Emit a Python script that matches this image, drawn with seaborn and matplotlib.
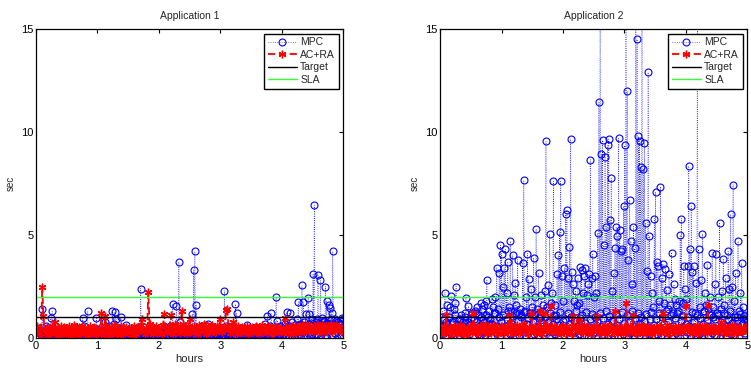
import numpy as np
import pandas as pd
import matplotlib
matplotlib.use("Agg")
import matplotlib.pyplot as plt
import seaborn as sns

# ---------------- data ----------------
TARGET = 1.0
SLA = 2.0
X_TICKS = [0, 1, 2, 3, 4, 5]
Y_TICKS = [0, 5, 10, 15]
TITLES = ["Application 1", "Application 2"]

# Application 1, MPC: upper samples (with the peaks)
mpc1_peak = [
    0.1, 0.3, 0.05, 0.4, 0.2, 1.4, 0.1, 0.35, 0.6, 0.15, 0.5, 0.2, 0.95, 1.3, 0.3, 0.1, 0.45, 0.2, 0.05, 0.3, 0.15, 0.4, 0.1, 0.25, 0.5,
    0.2, 0.05, 0.35, 0.15, 0.45, 0.1, 0.3, 0.55, 0.05, 0.2, 0.4, 0.1, 0.3, 0.97, 0.6, 0.15, 0.3, 1.33, 0.1, 0.4, 0.2, 0.05, 0.35, 0.5, 0.95,
    0.3, 0.1, 0.45, 0.2, 0.05, 0.35, 0.8, 0.15, 0.4, 0.6, 0.1, 0.3, 1.3, 0.7, 1.25, 0.9, 0.2, 0.5, 0.1, 1.0, 0.3, 0.05, 0.4, 0.65, 0.2,
    0.1, 0.35, 0.2, 0.05, 0.45, 0.3, 0.15, 0.5, 0.25, 0.1, 2.4, 0.4, 0.2, 0.55, 0.05, 0.3, 0.15, 0.45, 0.1, 0.35, 0.2, 0.5, 0.05, 0.3, 0.15,
    0.3, 0.1, 0.45, 0.2, 0.55, 0.05, 0.35, 0.15, 0.4, 0.6, 0.25, 1.65, 0.3, 0.5, 1.55, 0.2, 3.7, 0.8, 0.1, 0.4, 0.25, 0.05, 0.35, 0.6, 0.15,
    0.2, 0.45, 1.17, 3.3, 4.2, 1.6, 0.3, 0.1, 0.5, 0.25, 0.6, 0.05, 0.4, 0.2, 0.35, 0.7, 0.1, 0.45, 0.25, 0.55, 0.15, 0.3, 0.05, 0.4, 0.2,
    0.35, 0.1, 0.5, 2.3, 0.6, 0.2, 0.4, 0.05, 0.3, 0.55, 0.15, 0.45, 1.65, 1.2, 0.25, 0.5, 0.1, 0.35, 0.2, 0.45, 0.05, 0.65, 0.3, 0.15, 0.4,
    0.2, 0.45, 0.1, 0.35, 0.55, 0.05, 0.3, 0.5, 0.15, 0.4, 0.25, 0.7, 0.45, 1.05, 0.3, 0.6, 1.2, 0.1, 0.5, 0.35, 2.0, 0.85, 0.2, 0.6, 0.4,
    0.5, 0.3, 0.7, 0.15, 1.25, 0.6, 1.2, 0.4, 0.8, 0.25, 0.65, 0.5, 0.9, 1.75, 0.7, 0.35, 2.55, 1.75, 0.8, 1.15, 0.6, 1.95, 1.15, 0.75, 0.9,
    3.1, 6.45, 0.8, 0.9, 3.05, 0.7, 2.8, 0.95, 0.6, 0.85, 2.5, 1.8, 0.75, 1.6, 1.45, 1.2, 4.2, 0.7, 0.9, 0.6, 0.8, 0.5, 0.85, 0.7, 0.9,
]
# Application 1, MPC: lower samples
mpc1_low = [
    0.02, 0.15, 0.05, 0.3, 0.0, 0.1, 0.25, 0.03, 0.4, 0.08, 0.2, 0.0, 0.12, 0.35, 0.05, 0.18, 0.02, 0.28, 0.1, 0.0, 0.22, 0.06, 0.38, 0.04, 0.15,
    0.0, 0.25, 0.08, 0.12, 0.32, 0.03, 0.18, 0.0, 0.42, 0.1, 0.05, 0.27, 0.02, 0.15, 0.36, 0.0, 0.2, 0.07, 0.3, 0.04, 0.13, 0.0, 0.24, 0.09, 0.4,
    0.06, 0.18, 0.0, 0.33, 0.1, 0.03, 0.26, 0.14, 0.0, 0.38, 0.07, 0.2, 0.02, 0.3, 0.12, 0.0, 0.44, 0.05, 0.16, 0.28, 0.01, 0.1, 0.34, 0.04, 0.22,
    0.12, 0.0, 0.3, 0.06, 0.2, 0.02, 0.4, 0.1, 0.0, 0.24, 0.15, 0.04, 0.35, 0.08, 0.0, 0.28, 0.12, 0.03, 0.42, 0.06, 0.18, 0.0, 0.26, 0.1, 0.32,
    0.03, 0.22, 0.1, 0.0, 0.36, 0.14, 0.05, 0.3, 0.0, 0.18, 0.4, 0.07, 0.24, 0.02, 0.12, 0.34, 0.0, 0.2, 0.08, 0.45, 0.04, 0.16, 0.0, 0.28, 0.1,
    0.2, 0.05, 0.38, 0.0, 0.14, 0.26, 0.02, 0.32, 0.1, 0.0, 0.22, 0.44, 0.06, 0.17, 0.0, 0.3, 0.08, 0.4, 0.03, 0.2, 0.12, 0.0, 0.35, 0.07, 0.25,
    0.0, 0.3, 0.12, 0.05, 0.42, 0.18, 0.0, 0.25, 0.09, 0.36, 0.02, 0.15, 0.28, 0.0, 0.4, 0.06, 0.2, 0.11, 0.0, 0.33, 0.04, 0.24, 0.14, 0.0, 0.38,
    0.1, 0.02, 0.27, 0.16, 0.0, 0.4, 0.07, 0.22, 0.03, 0.34, 0.12, 0.0, 0.3, 0.18, 0.05, 0.45, 0.0, 0.14, 0.26, 0.08, 0.0, 0.36, 0.1, 0.2, 0.03,
    0.15, 0.35, 0.05, 0.5, 0.0, 0.28, 0.6, 0.1, 0.42, 0.02, 0.3, 0.55, 0.08, 0.2, 0.65, 0.0, 0.38, 0.12, 0.5, 0.04, 0.26, 0.7, 0.06, 0.44, 0.18,
    0.4, 0.05, 0.6, 0.2, 0.75, 0.0, 0.5, 0.3, 0.8, 0.1, 0.55, 0.02, 0.7, 0.35, 0.9, 0.08, 0.6, 0.25, 0.85, 0.0, 0.5, 0.7, 0.15, 0.95, 0.3,
]
# Application 1, AC+RA
acra1 = [
    0.3, 0.6, 0.2, 0.45, 0.1, 2.5, 1.05, 0.4, 0.25, 0.55, 0.15, 0.5, 0.3, 0.6, 0.2, 0.8, 0.35, 0.1, 0.5, 0.25, 0.6, 0.4, 0.15, 0.55, 0.3,
    0.45, 0.2, 0.6, 0.35, 0.1, 0.5, 0.65, 0.25, 0.4, 0.15, 0.55, 0.3, 0.6, 0.2, 0.45, 0.35, 0.1, 0.5, 0.25, 0.6, 0.4, 0.15, 0.55, 0.3, 0.45,
    0.2, 0.5, 0.35, 1.2, 0.4, 0.15, 1.05, 0.6, 0.3, 0.45, 0.1, 0.55, 0.25, 0.65, 0.35, 0.2, 0.5, 0.4, 0.15, 0.6, 0.3, 0.45, 0.2, 0.55, 0.35,
    0.5, 0.25, 0.4, 0.15, 0.6, 0.35, 0.2, 0.55, 0.3, 0.45, 0.65, 0.9, 0.4, 0.2, 0.5, 0.3, 2.23, 0.7, 0.35, 0.55, 0.2, 0.45, 0.6, 0.25, 0.4,
    0.3, 0.55, 0.2, 0.65, 1.15, 0.4, 0.25, 0.5, 0.35, 1.1, 0.6, 0.2, 0.45, 0.7, 0.3, 0.55, 0.4, 0.25, 1.3, 0.7, 0.35, 0.5, 0.2, 0.6, 0.45,
    0.9, 0.4, 0.25, 0.6, 0.35, 0.5, 0.2, 0.65, 0.45, 0.3, 0.55, 0.7, 0.4, 0.2, 0.6, 0.35, 0.5, 0.25, 0.65, 0.4, 0.55, 0.3, 0.6, 0.45, 0.9,
    0.5, 0.3, 0.6, 0.4, 1.35, 1.4, 0.55, 0.25, 0.45, 0.65, 0.8, 0.35, 0.5, 0.2, 0.6, 0.4, 0.3, 0.55, 0.25, 0.5, 0.35, 0.6, 0.2, 0.45, 0.3,
    0.55, 0.25, 0.4, 0.6, 0.35, 0.5, 0.2, 0.45, 0.65, 0.3, 0.55, 0.4, 0.25, 0.6, 0.35, 0.5, 0.2, 0.45, 0.3, 0.6, 0.4, 0.55, 0.25, 0.5, 0.35,
    0.45, 0.3, 0.95, 0.5, 0.25, 0.6, 0.35, 0.55, 0.2, 0.45, 0.65, 0.3, 0.5, 0.4, 0.6, 0.25, 0.55, 0.35, 0.7, 0.4, 0.5, 0.3, 0.6, 0.45, 0.55,
    0.35, 0.6, 0.4, 0.7, 0.3, 0.55, 0.45, 0.65, 0.25, 0.5, 0.6, 0.35, 0.55, 0.4, 0.7, 0.3, 0.5, 0.45, 0.65, 0.35, 0.55, 0.4, 0.6, 0.3, 0.5,
]

# Application 2, MPC: upper samples (with the peaks; values above 15 leave the frame)
mpc2_peak = [
    0.2, 0.6, 1.3, 0.4, 2.2, 0.8, 1.6, 0.3, 1.5, 2.05, 0.7, 1.4, 1.7, 2.5, 0.5, 0.9, 0.3, 1.1, 0.6, 0.8, 1.2, 1.95, 0.4, 1.55, 0.7,
    0.9, 1.2, 0.5, 1.3, 0.8, 1.5, 1.1, 0.6, 1.7, 1.4, 0.9, 1.6, 1.8, 2.8, 1.0, 1.3, 0.7, 1.9, 1.5, 1.2, 2.0, 3.4, 1.4, 3.15, 4.5,
    4.1, 2.5, 3.4, 4.3, 2.2, 3.7, 1.5, 4.7, 1.3, 4.05, 2.1, 2.65, 1.6, 3.8, 1.2, 1.4, 1.1, 3.65, 7.65, 1.3, 2.0, 4.1, 2.85, 1.2, 2.4,
    1.5, 3.9, 2.0, 5.3, 1.4, 3.15, 1.0, 2.1, 0.8, 1.6, 2.3, 9.55, 1.5, 2.55, 5.05, 1.7, 2.2, 7.6, 1.6, 1.1, 3.1, 4.05, 5.15, 7.6, 3.0,
    1.8, 3.4, 6.0, 6.2, 2.9, 4.4, 9.65, 3.2, 2.6, 1.8, 2.3, 1.6, 2.9, 1.7, 3.45, 3.3, 2.2, 3.0, 3.4, 2.1, 2.6, 3.1, 8.65, 2.9, 4.1,
    2.0, 3.0, 2.2, 5.1, 11.45, 17.0, 8.95, 9.6, 4.5, 8.8, 5.4, 9.35, 9.65, 5.75, 7.75, 2.3, 3.15, 4.35, 5.4, 4.95, 9.7, 5.25, 4.2, 4.3, 6.4,
    9.35, 18.0, 12.0, 3.8, 6.7, 4.7, 2.6, 5.4, 4.35, 17.0, 14.5, 9.8, 9.55, 8.3, 16.5, 8.2, 9.45, 5.6, 3.25, 12.9, 4.95, 3.0, 2.2, 1.5, 5.8,
    7.1, 3.7, 3.5, 1.8, 7.35, 2.9, 3.6, 1.7, 3.35, 2.35, 1.4, 3.1, 1.6, 4.15, 1.2, 2.6, 1.9, 1.6, 1.3, 1.8, 5.0, 5.8, 1.7, 3.5, 2.4,
    1.9, 3.5, 8.35, 4.3, 6.4, 3.2, 3.5, 1.2, 2.65, 16.0, 4.3, 1.5, 2.8, 5.05, 1.3, 2.2, 1.6, 3.55, 1.4, 2.0, 1.1, 4.15, 1.5, 2.6, 4.1,
    1.2, 2.0, 5.6, 1.4, 2.3, 3.85, 1.6, 2.9, 1.1, 4.2, 2.4, 6.0, 2.5, 7.45, 1.8, 3.15, 1.0, 4.7, 1.3, 2.2, 3.65, 1.5, 0.9, 1.1, 0.8,
]
# Application 2, MPC: lower samples
mpc2_low = [
    0.05, 0.6, 0.3, 0.9, 0.1, 0.7, 0.4, 1.0, 0.2, 0.8, 0.05, 0.5, 1.1, 0.3, 0.7, 0.15, 0.9, 0.4, 0.6, 0.05, 1.0, 0.3, 0.8, 0.2, 0.5,
    0.7, 0.1, 0.9, 0.4, 1.2, 0.2, 0.6, 0.05, 1.0, 0.35, 0.8, 0.15, 1.1, 0.5, 0.3, 0.9, 0.05, 0.7, 0.4, 1.2, 0.25, 0.6, 1.0, 0.1, 0.8,
    0.3, 1.1, 0.6, 0.0, 0.9, 1.3, 0.2, 0.75, 1.05, 0.4, 0.05, 1.2, 0.5, 0.85, 0.15, 1.0, 0.6, 0.3, 1.25, 0.1, 0.7, 0.95, 0.4, 0.05, 1.1,
    0.8, 0.2, 1.15, 0.5, 0.0, 0.95, 0.35, 1.3, 0.6, 0.1, 1.0, 0.45, 0.8, 0.05, 1.2, 0.3, 0.7, 1.05, 0.2, 0.9, 0.0, 0.65, 1.25, 0.4, 0.85,
    0.15, 0.9, 0.5, 1.2, 0.05, 0.7, 1.0, 0.3, 0.85, 0.0, 1.3, 0.6, 0.2, 0.95, 0.4, 1.1, 0.1, 0.75, 1.25, 0.35, 0.0, 0.9, 0.55, 1.15, 0.25,
    1.0, 0.3, 0.8, 0.05, 1.2, 0.6, 0.15, 0.95, 0.4, 1.3, 0.0, 0.7, 1.05, 0.25, 0.85, 0.5, 0.1, 1.15, 0.65, 0.0, 0.9, 0.35, 1.25, 0.2, 0.75,
    0.4, 1.1, 0.0, 0.8, 0.25, 1.3, 0.6, 0.1, 0.95, 0.45, 1.2, 0.05, 0.7, 1.0, 0.3, 0.85, 0.0, 1.15, 0.55, 0.2, 0.9, 1.25, 0.35, 0.65, 0.1,
    0.9, 0.2, 1.2, 0.5, 0.05, 1.0, 0.7, 0.3, 1.3, 0.0, 0.8, 0.45, 1.1, 0.15, 0.6, 0.95, 0.25, 1.2, 0.4, 0.0, 0.85, 0.55, 1.05, 0.1, 0.7,
    0.3, 1.0, 0.6, 0.0, 1.25, 0.4, 0.8, 0.1, 1.1, 0.5, 0.2, 0.95, 0.0, 0.7, 1.3, 0.35, 0.85, 0.05, 1.15, 0.6, 0.25, 1.0, 0.45, 0.9, 0.15,
    1.1, 0.4, 0.0, 0.8, 0.3, 1.2, 0.6, 0.1, 0.9, 0.5, 1.3, 0.2, 0.75, 0.05, 1.0, 0.45, 0.85, 0.0, 1.15, 0.35, 0.7, 1.05, 0.25, 0.95, 0.6,
]
# Application 2, AC+RA
acra2 = [
    0.3, 0.5, 0.2, 0.6, 0.35, 1.1, 0.45, 0.25, 0.55, 0.15, 0.4, 0.6, 0.3, 0.5, 0.2, 0.45, 0.65, 0.35, 0.25, 0.55, 0.4, 0.15, 0.5, 0.3, 0.6,
    0.4, 0.25, 1.2, 0.5, 0.35, 0.6, 0.2, 0.45, 0.3, 0.55, 0.7, 0.35, 0.5, 0.2, 0.6, 0.4, 0.25, 0.55, 0.35, 0.65, 0.3, 0.5, 0.2, 0.45, 0.6,
    0.35, 0.55, 0.25, 0.6, 0.4, 0.3, 1.1, 0.8, 0.45, 0.2, 0.55, 0.35, 0.65, 0.3, 0.5, 0.25, 0.6, 0.4, 0.7, 0.35, 0.5, 0.2, 0.55, 0.45, 1.2,
    0.4, 0.3, 0.6, 0.25, 0.5, 0.35, 1.3, 0.45, 0.2, 0.55, 1.2, 0.4, 0.65, 0.3, 0.5, 1.55, 0.35, 0.6, 0.25, 0.45, 0.55, 0.3, 0.5, 0.2, 0.6,
    0.35, 0.55, 0.25, 0.6, 0.4, 0.3, 0.5, 0.2, 1.05, 0.45, 0.6, 0.35, 0.55, 0.9, 0.3, 0.5, 0.25, 0.65, 0.4, 0.55, 0.3, 0.6, 0.2, 0.45, 0.5,
    0.4, 0.6, 1.05, 0.35, 0.5, 0.25, 0.55, 0.45, 0.3, 0.65, 0.2, 0.5, 0.4, 0.6, 0.35, 0.55, 0.25, 1.3, 0.45, 0.3, 0.6, 0.4, 0.5, 0.2, 0.55,
    0.35, 1.7, 0.5, 0.25, 0.6, 0.4, 1.1, 0.3, 0.55, 0.45, 0.2, 0.65, 0.35, 0.5, 0.3, 0.6, 0.4, 0.25, 0.55, 0.45, 0.35, 0.6, 0.2, 0.5, 0.4,
    0.55, 0.3, 0.45, 0.6, 0.25, 0.5, 1.2, 0.4, 0.35, 0.65, 0.2, 0.55, 0.45, 0.3, 0.6, 0.4, 0.5, 0.25, 0.55, 0.35, 0.6, 0.45, 0.3, 0.5, 1.55,
    0.4, 0.6, 0.3, 0.5, 0.25, 0.55, 0.45, 0.35, 0.65, 0.2, 0.5, 0.4, 0.6, 0.3, 0.55, 0.45, 0.25, 1.6, 0.5, 0.35, 0.6, 0.4, 0.3, 0.55, 0.45,
    0.3, 0.55, 0.4, 0.8, 0.5, 0.25, 0.6, 0.35, 0.45, 0.2, 0.55, 0.4, 0.65, 0.3, 0.5, 0.25, 0.6, 0.45, 0.35, 0.55, 0.3, 0.5, 0.4, 0.6, 0.35,
]

# ---------------- style ----------------
sns.set_style("white")
plt.rcParams["font.family"] = ["Liberation Sans", "DejaVu Sans"]

BLUE = (0.0, 0.0, 1.0)
RED = (1.0, 0.0, 0.0)
GREEN = (0.2, 1.0, 0.2)
ASTERISK = (6, 2, 0)

fig = plt.figure(figsize=(7.51, 3.76), dpi=100)
ax1 = fig.add_axes([0.048, 0.101, 0.409, 0.822])
ax2 = fig.add_axes([0.586, 0.101, 0.409, 0.822])


def interleave(a, b):
    return np.column_stack([np.asarray(a, float), np.asarray(b, float)]).ravel()


def draw(ax, mpc_peak, mpc_low, acra, title):
    mpc = interleave(mpc_peak, mpc_low)
    df_m = pd.DataFrame({"hours": np.linspace(0, 5, len(mpc)), "sec": mpc})
    df_a = pd.DataFrame({"hours": np.linspace(0, 5, len(acra)), "sec": np.asarray(acra, float)})
    sns.lineplot(data=df_m, x="hours", y="sec", ax=ax, sort=False, estimator=None,
                 color=BLUE, linestyle=(0, (1, 2.2)), linewidth=0.5, marker="o", markersize=5,
                 markerfacecolor="none", markeredgecolor=BLUE, markeredgewidth=0.8,
                 label="MPC")
    sns.lineplot(data=df_a, x="hours", y="sec", ax=ax, sort=False, estimator=None,
                 color=RED, linestyle=(0, (4, 2)), linewidth=1.3, marker=ASTERISK, markersize=5.5,
                 markerfacecolor=RED, markeredgecolor=RED, markeredgewidth=1.0,
                 label="AC+RA")
    ax.axhline(TARGET, color="black", linewidth=1.0, label="Target")
    ax.axhline(SLA, color=GREEN, linewidth=1.0, label="SLA")

    ax.set_xlim(0, 5)
    ax.set_ylim(0, 15)
    ax.set_xticks(X_TICKS)
    ax.set_yticks(Y_TICKS)
    ax.tick_params(direction="in", top=True, right=True, length=3, width=0.8,
                   labelsize=8, pad=2, colors="black")
    for s in ax.spines.values():
        s.set_color("black")
        s.set_linewidth(0.9)
    ax.set_title(title, fontsize=7.5, pad=7)
    ax.set_xlabel("hours", fontsize=8, labelpad=2)
    ax.set_ylabel("sec", fontsize=7, labelpad=4)
    leg = ax.legend(loc="upper right", fontsize=7.5, frameon=True, fancybox=False,
                    edgecolor="black", framealpha=1, borderaxespad=0.45,
                    handlelength=2.8, handletextpad=0.3, labelspacing=0.25,
                    borderpad=0.35)
    leg.get_frame().set_linewidth(1.0)


draw(ax1, mpc1_peak, mpc1_low, acra1, TITLES[0])
draw(ax2, mpc2_peak, mpc2_low, acra2, TITLES[1])

fig.savefig("out.png", dpi=100)
